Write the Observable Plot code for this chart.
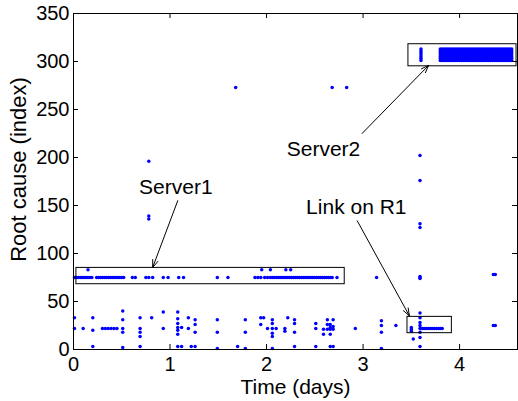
<!DOCTYPE html>
<html><head><meta charset="utf-8">
<script src="https://cdn.jsdelivr.net/npm/d3@7"></script>
<script src="https://cdn.jsdelivr.net/npm/@observablehq/plot@0.6"></script>
<style>html,body{margin:0;padding:0;background:#fff} svg{display:block}</style>
</head><body><div id="chart"></div>
<script>
// Tick labels
const xTicks = [0, 1, 2, 3, 4];
const yTicks = [0, 50, 100, 150, 200, 250, 300, 350];
const xLabel = "Time (days)";
const yLabel = "Root cause (index)";

// Server1 band (index ~75)
const server1BandX = [0.01,0.03,0.05,0.07,0.09,0.11,0.13,0.15,0.17,0.19,
  0.24,0.26,0.28,0.30,0.32,0.34,0.36,0.38,0.40,0.42,0.44,0.46,0.48,0.50,0.52,
  0.61,0.64,0.75,0.78,0.82,0.93,0.98,1.09,1.14,1.49,1.60,1.88,1.91,1.94,1.98,2.01,
  2.04,2.06,2.08,2.10,2.12,2.14,2.16,2.18,2.20,2.22,2.24,2.26,2.28,2.30,2.32,2.34,2.36,
  2.38,2.40,2.42,2.44,2.46,2.48,2.50,2.52,2.54,2.56,2.58,2.60,2.62,2.64,2.66,2.68,2.73,
  3.14,3.59];
const server1BandY = 75;
const server1AboveX = [0.15, 1.95, 2.04, 2.20, 2.25, 4.35, 4.37];
const server1AboveY = [83, 83, 83, 83, 83, 78, 78];

// Server2 block (index ~300-314)
const server2X = [3.80,3.82,3.84,3.86,3.88,3.90,3.92,3.94,3.96,3.98,4.00,4.02,4.04,4.06,4.08,
  4.10,4.12,4.14,4.16,4.18,4.20,4.22,4.24,4.26,4.28,4.30,4.32,4.34,4.36,4.38,4.40,4.42,4.44,
  4.46,4.48,4.50,4.52,4.54];
const server2Y = [301, 303, 305, 307, 309, 311, 313];
const server2ColumnX = [3.60, 3.60, 3.60, 3.60, 3.60, 3.60, 3.60];
const server2ColumnY = [301, 303, 305, 307, 309, 311, 313];

// Link on R1 band (index ~22)
const linkX = [3.60,3.62,3.64,3.66,3.68,3.70,3.72,3.74,3.76,3.78,3.80,3.82];
const linkY = 22;

// Scattered points
const otherX = [0.78,0.78,0.78,1.68,2.68,2.83,3.59,3.59,3.59,3.59,3.59,3.59,
  3.59,3.59,3.59,3.59,3.59,3.59,3.59,3.59,
  0.01,0.01,0.10,0.20,0.20,0.20,0.30,0.33,0.36,0.39,0.42,0.45,
  0.51,0.51,0.51,0.51,0.51,0.69,0.69,0.69,0.69,0.69,0.81,0.93,0.93,
  1.08,1.08,1.08,1.08,1.08,1.08,1.08,1.12,1.12,1.19,1.19,1.22,1.26,1.26,1.26,1.26,
  1.49,1.49,1.49,1.70,1.78,1.78,1.78,1.94,1.94,1.97,2.01,
  2.06,2.06,2.06,2.06,2.06,2.06,2.10,2.19,2.19,2.22,2.29,2.29,2.29,2.29,
  2.51,2.51,2.51,2.59,2.59,2.63,2.63,2.63,2.66,2.66,2.66,2.66,2.66,2.69,2.69,2.69,2.69,
  2.92,3.19,3.19,3.19,3.19,3.34,3.50,3.50,3.50,3.52,4.35,4.37];
const otherY = [196,139,136,273,273,273,202,176,131,127,74,76,
  38,33,28,25,22,18,12.5,3,
  33,22,22,33,20,3,22,22,22,22,22,22,
  40,31,22,18,2,33,22,18,13.5,3,33,39,22,
  39,32,27,23,20,16,3,23,3,33,22,3,31,26,18,3,
  31,18,1,3,31,18,1,33,26,33,22,
  31,27,22,17,13.5,1,22,22,19,33,31,27,18,3,
  27,22,3,21,16,31,26,21,26,23,21,16,3,31,24,21,3,
  22,30,25,18,1,25,23,21,19,11,25,25];

// Annotations
const boxNames = ["Server1", "Server2", "Link on R1"];
const boxX1 = [0.03, 3.47, 3.46];
const boxX2 = [2.81, 4.59, 3.92];
const boxY1 = [68, 295, 17];
const boxY2 = [85, 318, 34];
const labelX = [1.06, 2.59, 2.93];
const labelY = [169, 209, 148];
const arrowX1 = [1.08, 2.99, 2.94];
const arrowY1 = [155, 225, 134];
const arrowX2 = [0.82, 3.68, 3.48];
const arrowY2 = [85.4, 296, 35];

// Build table
const points = [];
server1BandX.forEach(x => points.push({x, y: server1BandY}));
server1AboveX.forEach((x, i) => points.push({x, y: server1AboveY[i]}));
server2X.forEach(x => server2Y.forEach(y => points.push({x, y})));
server2ColumnX.forEach((x, i) => points.push({x, y: server2ColumnY[i]}));
linkX.forEach(x => points.push({x, y: linkY}));
otherX.forEach((x, i) => points.push({x, y: otherY[i]}));

const annotations = boxNames.map((name, i) => ({
  name, bx1: boxX1[i], bx2: boxX2[i], by1: boxY1[i], by2: boxY2[i],
  lx: labelX[i], ly: labelY[i], ax1: arrowX1[i], ay1: arrowY1[i], ax2: arrowX2[i], ay2: arrowY2[i]
}));

const W = 518, H = 401, mL = 73, mR = 1, mT = 13, mB = 52;
const fw = W - mL - mR, fh = H - mT - mB, tick = 5;
const font = "Liberation Sans, Arial, Helvetica, sans-serif";

const chart = Plot.plot({
  width: W, height: H,
  marginLeft: mL, marginRight: mR, marginTop: mT, marginBottom: mB,
  style: {fontFamily: font, fontSize: "20px", background: "white", color: "black"},
  x: {domain: [0, 4.6], label: null},
  y: {domain: [0, 350], label: null},
  marks: [
    Plot.dot(points, {x: "x", y: "y", r: 1.75, fill: "#0000ff", stroke: null}),
    Plot.rect(annotations, {x1: "bx1", x2: "bx2", y1: "by1", y2: "by2", fill: "none", stroke: "black", strokeWidth: 1}),
    Plot.arrow(annotations, {x1: "ax1", y1: "ay1", x2: "ax2", y2: "ay2", stroke: "black", strokeWidth: 1, headLength: 12, headAngle: 40}),
    Plot.text(annotations, {x: "lx", y: "ly", text: "name", fontSize: 21, fill: "black"}),
    Plot.frame({stroke: "black", strokeWidth: 1}),
    Plot.ruleX(xTicks, {x: d => d, insetTop: fh - tick, stroke: "black"}),
    Plot.ruleX(xTicks, {x: d => d, insetBottom: fh - tick, stroke: "black"}),
    Plot.ruleY(yTicks, {y: d => d, insetRight: fw - tick, stroke: "black"}),
    Plot.ruleY(yTicks, {y: d => d, insetLeft: fw - tick, stroke: "black"}),
    Plot.axisX(xTicks, {anchor: "bottom", tickSize: 0, tickPadding: 7, fontSize: 20, label: null}),
    Plot.axisY(yTicks, {anchor: "left", tickSize: 0, tickPadding: 4, fontSize: 20, label: null}),
    Plot.text([xLabel], {frameAnchor: "bottom", dy: 44, fontSize: 21, fill: "black"}),
    Plot.text([yLabel], {frameAnchor: "left", textAnchor: "middle", dx: -55, dy: -12, rotate: -90, fontSize: 22, fill: "black"})
  ]
});
document.getElementById("chart").appendChild(chart);
</script>
</body></html>
